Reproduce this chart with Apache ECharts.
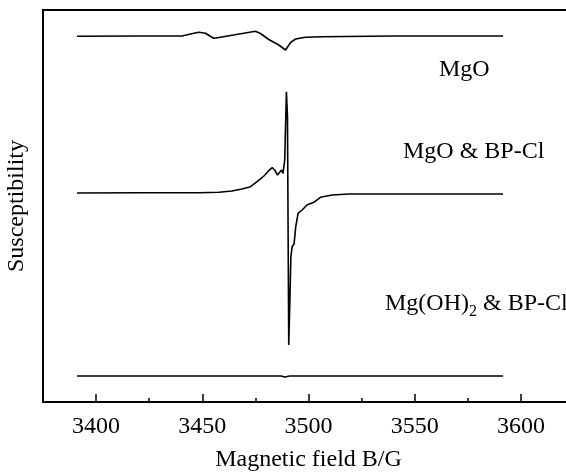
<!DOCTYPE html>
<html>
<head>
<meta charset="utf-8">
<script src="https://cdn.jsdelivr.net/npm/echarts@6/dist/echarts.min.js"></script>
<style>html,body{margin:0;padding:0;background:#fff}#c{width:566px;height:474px}</style>
</head>
<body>
<div id="c"></div>
<script>
// Magnetic field (G) and relative intensity (arbitrary units, stacked offsets)
const mgoB = [3391, 3420, 3440.5, 3444.4, 3448.3, 3451.5, 3453.9, 3455.4, 3457.8, 3475, 3477.4, 3481.3, 3486, 3489.2, 3489.9, 3491.5, 3493.9, 3498.6, 3506.4, 3540, 3591.6];
const mgoY = [365.8, 366, 366, 368, 369.7, 368.7, 365.5, 363.7, 364.5, 370.7, 368.5, 362.5, 357, 352, 350.5, 359.3, 363, 364.7, 365.3, 366, 366];

const bpB = [3391, 3420, 3448.4, 3457.8, 3464, 3468.7, 3472.7, 3475.8, 3479, 3481.3, 3482.9, 3484.1, 3485.4, 3486.3, 3487.3, 3488, 3488.8, 3489.6, 3490.1, 3490.7, 3491.2, 3491.7, 3492.3, 3493.2, 3494, 3495.1, 3497, 3499.3, 3502.5, 3505.6, 3511.1, 3519, 3542.5, 3591.6];
const bpY = [209, 209.2, 209.3, 209.7, 211, 213, 215.3, 220.3, 226, 231.3, 234.3, 232, 227, 227.3, 232, 228.7, 242, 310.3, 285.3, 57, 98.7, 145.3, 155.3, 158, 175.3, 188.7, 192, 197, 199.7, 204.7, 207, 208, 208, 208];

const ohB = [3391, 3450, 3487, 3489, 3491, 3530, 3591.6];
const ohY = [26, 26, 26, 25, 26, 26, 26];

const labelStep = 50;   // labelled (major) tick step
const minorStep = 25;   // minor tick step

const seriesNames = ['MgO', 'MgO & BP-Cl', 'Mg(OH)2 & BP-Cl'];

const zip = (a, b) => a.map((v, i) => [v, b[i]]);
const FONT = 'Liberation Serif';

// main plot: x from 3375 to 3625 over 531 px
const G = { left: 43, top: 10, right: -8, bottom: 72 };
const pxPerUnit = (566 - G.left - G.right) / 250;

const chart = echarts.init(document.getElementById('c'));
const lineSeries = (name, data) => ({
  name, type: 'line', data, symbol: 'none', smooth: false, xAxisIndex: 0, yAxisIndex: 0,
  lineStyle: { color: '#000', width: 1.6 }, silent: true
});

chart.setOption({
  animation: false,
  backgroundColor: '#fff',
  grid: [
    { left: G.left, top: G.top, right: G.right, bottom: G.bottom, outerBoundsMode: 'none', containLabel: false,
      show: true, borderColor: '#000', borderWidth: 2, backgroundColor: 'transparent' },
    { left: G.left - 25 * pxPerUnit, top: G.top, right: G.right - 25 * pxPerUnit, bottom: G.bottom,
      outerBoundsMode: 'none', containLabel: false, show: false }
  ],
  xAxis: [{
    gridIndex: 0, type: 'value', min: 3375, max: 3625, interval: minorStep,
    name: 'Magnetic field B/G', nameLocation: 'middle', nameGap: 46,
    nameTextStyle: { fontFamily: FONT, fontSize: 24, color: '#000' },
    axisLine: { show: true, lineStyle: { color: '#000', width: 2 } },
    axisTick: { show: true, inside: true, length: 4, lineStyle: { color: '#000', width: 1.5 } },
    axisLabel: { margin: 13, fontFamily: FONT, fontSize: 24, color: '#000', showMinLabel: false, showMaxLabel: false,
                 formatter: v => (v % labelStep === 0 ? String(v) : '') },
    splitLine: { show: false }
  }, {
    gridIndex: 1, type: 'value', min: 3350, max: 3650, interval: labelStep, position: 'bottom',
    axisLine: { show: false },
    axisTick: { show: true, inside: true, length: 8, lineStyle: { color: '#000', width: 1.5 } },
    axisLabel: { show: false },
    splitLine: { show: false }
  }],
  yAxis: [{
    gridIndex: 0, type: 'value', min: 0, max: 392,
    name: 'Susceptibility', nameLocation: 'middle', nameGap: 14,
    nameTextStyle: { fontFamily: FONT, fontSize: 24, color: '#000' },
    axisLine: { show: true, lineStyle: { color: '#000', width: 2 } },
    axisTick: { show: false }, axisLabel: { show: false }, splitLine: { show: false }
  }, {
    gridIndex: 1, type: 'value', min: 0, max: 392, show: false
  }],
  series: [
    lineSeries(seriesNames[0], zip(mgoB, mgoY)),
    lineSeries(seriesNames[1], zip(bpB, bpY)),
    lineSeries(seriesNames[2], zip(ohB, ohY))
  ],
  graphic: [
    { type: 'text', left: 439, top: 58, style: { text: 'MgO', fontFamily: FONT, fontSize: 24, fill: '#000' } },
    { type: 'text', left: 403, top: 140, style: { text: 'MgO & BP-Cl', fontFamily: FONT, fontSize: 24, fill: '#000' } },
    { type: 'text', left: 385, top: 292, style: {
        text: '{a|Mg(OH)}{s|2}{a| & BP-Cl}', fill: '#000',
        rich: {
          a: { fontFamily: FONT, fontSize: 24, lineHeight: 24, verticalAlign: 'top', fill: '#000' },
          s: { fontFamily: FONT, fontSize: 16, lineHeight: 16, padding: [12, 0, 0, 0], verticalAlign: 'top', fill: '#000' }
        } } }
  ]
});
</script>
</body>
</html>
